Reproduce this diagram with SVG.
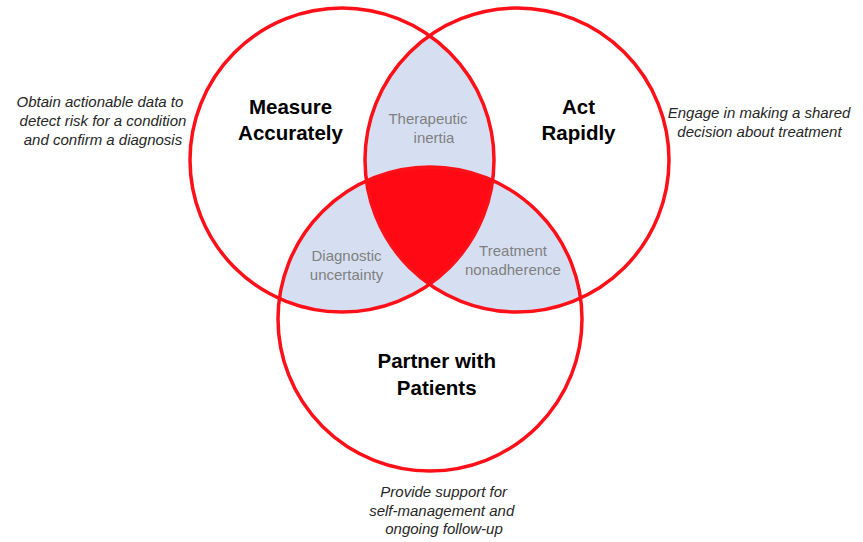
<svg xmlns="http://www.w3.org/2000/svg" width="863" height="542" viewBox="0 0 863 542">
<style>
.circ{fill:none;stroke:#FF1018;stroke-width:3.5}
.lens{fill:#D6DFF2;stroke:none}
.core{fill:#FF0A14;stroke:none}
.title{font-family:"Liberation Sans",Arial,sans-serif;font-weight:bold;font-size:20.5px;fill:#000;text-anchor:middle}
.sub{font-family:"Liberation Sans",Arial,sans-serif;font-size:15px;fill:#7F7F7F;text-anchor:middle}
.note{font-family:"Liberation Sans",Arial,sans-serif;font-style:italic;font-size:15px;fill:#262626;text-anchor:middle}
</style>
<rect width="863" height="542" fill="#fff"/>
<g id="regions">
<path id="lens-top" class="lens" d="M429.5 35.7 A152 152 0 0 0 366.45 180.9 A152 152 0 0 1 492.6 180.5 A152 152 0 0 0 429.5 35.7 Z"/>
<path id="lens-left" class="lens" d="M279.4 298.5 A152 152 0 0 1 366.45 180.9 A152 152 0 0 0 429.5 284.3 A152 152 0 0 1 279.4 298.5 Z"/>
<path id="lens-right" class="lens" d="M492.6 180.5 A152 152 0 0 1 580.5 298.1 A152 152 0 0 1 429.5 284.3 A152 152 0 0 0 492.6 180.5 Z"/>
<path id="core" class="core" d="M366.45 180.9 A152 152 0 0 1 492.6 180.5 A152 152 0 0 1 429.5 284.3 A152 152 0 0 1 366.45 180.9 Z"/>
</g>
<g id="measure">
<circle class="circ" cx="342" cy="160" r="152"/>
<text class="title" x="290.5" y="114">Measure</text>
<text class="title" x="290.5" y="140">Accurately</text>
<text class="note" x="100" y="107">Obtain actionable data to</text>
<text class="note" x="103" y="126">detect risk for a condition</text>
<text class="note" x="103" y="145">and confirm a diagnosis</text>
</g>
<g id="act">
<circle class="circ" cx="517" cy="160" r="152"/>
<text class="title" x="578.5" y="114">Act</text>
<text class="title" x="578.5" y="140">Rapidly</text>
<text class="note" x="759" y="118">Engage in making a shared</text>
<text class="note" x="759.5" y="137">decision about treatment</text>
</g>
<g id="partner">
<circle class="circ" cx="430" cy="319" r="152"/>
<text class="title" x="436.7" y="368">Partner with</text>
<text class="title" x="436.7" y="395">Patients</text>
<text class="note" x="443.7" y="497">Provide support for</text>
<text class="note" x="441.7" y="516">self-management and</text>
<text class="note" x="444" y="534">ongoing follow-up</text>
</g>
<g id="labels">
<text class="sub" x="428" y="124">Therapeutic</text>
<text class="sub" x="434" y="143">inertia</text>
<text class="sub" x="346.5" y="261">Diagnostic</text>
<text class="sub" x="346.5" y="280">uncertainty</text>
<text class="sub" x="513" y="256">Treatment</text>
<text class="sub" x="513" y="275">nonadherence</text>
</g>
</svg>
